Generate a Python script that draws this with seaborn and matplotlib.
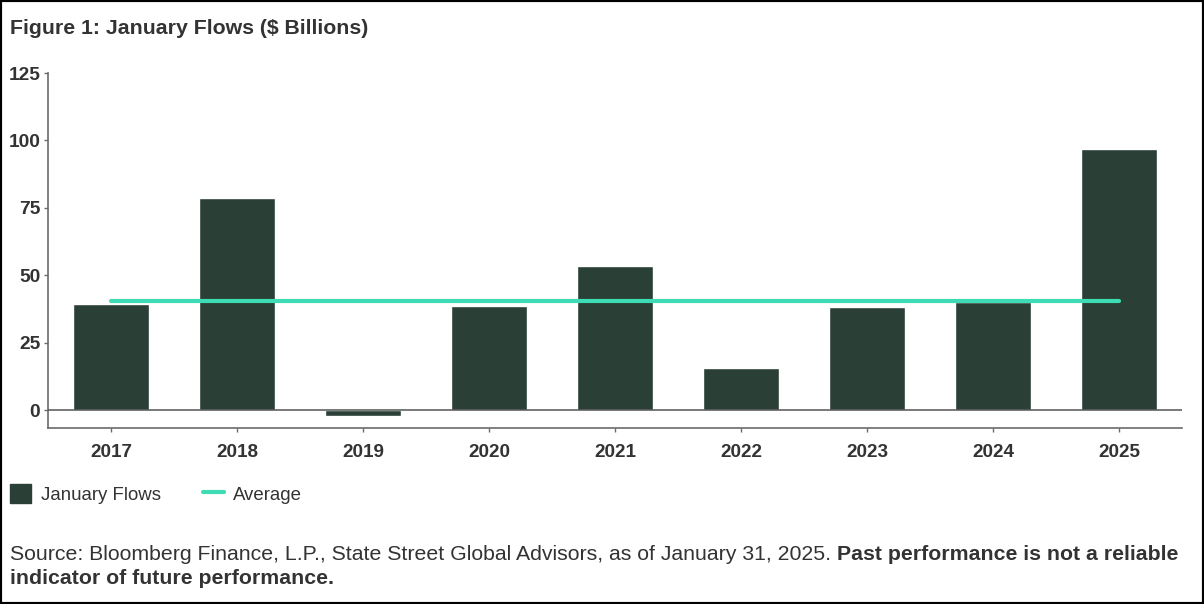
import numpy as np
import pandas as pd
import matplotlib
matplotlib.use('Agg')
import matplotlib.pyplot as plt
import seaborn as sns
from matplotlib.patches import Patch, Rectangle
from matplotlib.lines import Line2D

# data
years = ['2017', '2018', '2019', '2020', '2021', '2022', '2023', '2024', '2025']
flows = [39.2, 78.6, -2.2, 38.6, 53.4, 15.6, 38.2, 40.0, 97.0]
avg_flow = 40.3
y_ticks = [0, 25, 50, 75, 100, 125]

BAR = '#2a3f35'
TEAL = '#3ddcb4'
TXT = '#333333'
SPINE = '#6b6b6b'

sns.set_theme(style='white')
plt.rcParams['font.family'] = ['Liberation Sans', 'DejaVu Sans']

df = pd.DataFrame({'year': years, 'flow': flows})

fig = plt.figure(figsize=(12.04, 6.04), dpi=100)
ax = fig.add_axes([48/1204, 1 - 428/604, (1182 - 48)/1204, (428 - 73)/604])

sns.barplot(data=df, x='year', y='flow', color=BAR, width=0.6,
            saturation=1, ax=ax, zorder=2)
sns.lineplot(x=np.arange(len(years)), y=[avg_flow] * len(years),
             color=TEAL, lw=3, ax=ax, zorder=3, solid_capstyle='round')

ax.axhline(0, color='#555555', lw=1.1, zorder=4)
ax.set_xlim(-0.5, len(years) - 0.5)
ax.set_ylim(-6.6, 125)
ax.set_yticks(y_ticks)
ax.set_xlabel('')
ax.set_ylabel('')

for s in ['top', 'right']:
    ax.spines[s].set_visible(False)
for s in ['left', 'bottom']:
    ax.spines[s].set_color(SPINE)
    ax.spines[s].set_linewidth(1.2)

ax.tick_params(axis='y', left=True, length=3, width=1, color=SPINE, pad=2.5,
               labelsize=13.8, labelcolor=TXT)
ax.tick_params(axis='x', bottom=True, length=3, width=1, color=SPINE, pad=8.5,
               labelsize=13.6, labelcolor=TXT)
for lab in ax.get_xticklabels() + ax.get_yticklabels():
    lab.set_fontweight('bold')

fig.text(10/1204, 1 - 28/604, 'Figure 1: January Flows ($ Billions)',
         fontsize=15.3, fontweight='bold', color=TXT, va='center', ha='left')

handles = [Patch(facecolor=BAR, edgecolor=BAR, label='January Flows'),
           Line2D([0], [0], color=TEAL, lw=3, label='Average')]
fig.legend(handles=handles, loc='center left', bbox_to_anchor=(10/1204, 1 - 494/604),
           ncol=2, frameon=False, fontsize=13.4, handlelength=1.15, handleheight=1.15,
           handletextpad=0.5, columnspacing=2.25, borderpad=0, borderaxespad=0,
           labelcolor=TXT)

# footnote: normal text followed by bold text
FOOT = 15.3
t1 = fig.text(10/1204, 1 - 554/604,
              'Source: Bloomberg Finance, L.P., State Street Global Advisors, as of January 31, 2025. ',
              fontsize=FOOT, color=TXT, va='center', ha='left')
fig.canvas.draw()
bb = t1.get_window_extent(renderer=fig.canvas.get_renderer())
fig.text(bb.x1 / fig.bbox.width, 1 - 554/604, 'Past performance is not a reliable',
         fontsize=FOOT, fontweight='bold', color=TXT, va='center', ha='left')
fig.text(10/1204, 1 - 578/604, 'indicator of future performance.',
         fontsize=FOOT, fontweight='bold', color=TXT, va='center', ha='left')

fig.patches.append(Rectangle((0, 0), 1, 1, transform=fig.transFigure, fill=False,
                             edgecolor='black', lw=3, zorder=10))

fig.savefig('out.png', dpi=100, facecolor='white')
